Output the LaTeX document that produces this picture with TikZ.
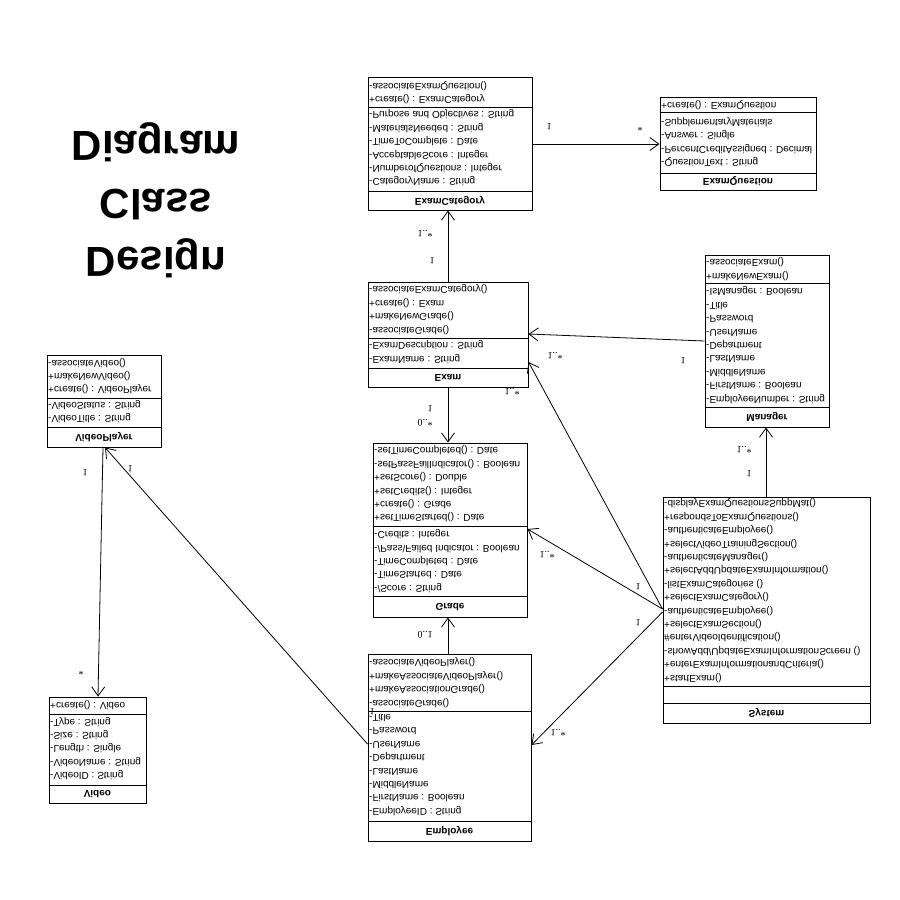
\documentclass[tikz,border=0pt]{standalone}
\usepackage{fontspec}
\setmainfont{Liberation Sans}
\newfontfamily\multfont{Liberation Serif}
\usetikzlibrary{arrows.meta}
\usetikzlibrary{fit}
\tikzset{
  Klasse/.style={draw, line width=1pt, inner sep=0pt, fit={#1}}, % Klassenrahmen
  Glieder/.style={anchor=west, yscale=-1, align=left, inner xsep=1.5pt, inner ysep=0pt,
    font=\fontsize{10}{13.4}\selectfont}, % Attribute und Methoden
  Klassenname/.style={yscale=-1, inner sep=0pt, font=\bfseries\fontsize{10}{12}\selectfont},
  Linie/.style={line width=0.9pt},
  Assoz/.style={line width=0.8pt, -{Straight Barb[length=9pt,width=13pt]}}, % Assoziationspfeile
  Mult/.style={yscale=-1, inner sep=0pt, font=\multfont\fontsize{10}{11}\selectfont},
  Titel/.style={yscale=-1, align=center, inner sep=0pt, font=\bfseries\fontsize{42}{58}\selectfont}
}
\begin{document}
\begin{tikzpicture}[x=1pt, y=-1pt]
\useasboundingbox (0,0) rectangle (900,900);

%Titel
\node[Titel] (Titel) at (156,200) {Design\\Class\\Diagram};

%Klassen
\node[Klasse={(368,77) (532,210)}] (ExamCategory) {};
\node[Klasse={(660,97) (816,190)}] (ExamQuestion) {};
\node[Klasse={(368,282) (528,387)}] (Exam) {};
\node[Klasse={(705,255) (829,427)}] (Manager) {};
\node[Klasse={(47,355) (161,447)}] (VideoPlayer) {};
\node[Klasse={(373,443) (527,617)}] (Grade) {};
\node[Klasse={(663,497) (870,723)}] (System) {};
\node[Klasse={(368,654) (531,841)}] (Employee) {};
\node[Klasse={(49,697) (146,803)}] (Video) {};

%Trennlinien
\foreach \k/\a/\b in {ExamCategory/107/191, ExamQuestion/112/173, Exam/338/368,
  Manager/283/407, VideoPlayer/398/427, Grade/526/596, System/686/703,
  Employee/711/821, Video/714/785}{
  \draw[Linie] (\k.west |- 0,\a) -- (\k.east |- 0,\a);
  \draw[Linie] (\k.west |- 0,\b) -- (\k.east |- 0,\b);
}

%Methoden und Attribute
\node[Glieder] (ExamCategory-m) at (ExamCategory.west |- 0,92.5)
  {+create() : ExamCategory\\-associateExamQuestion()};
\node[Glieder] (ExamCategory-a) at (ExamCategory.west |- 0,148)
  {-CategoryName : String\\-NumberofQuestions : Integer\\-AcceptableScore : Integer\\
   -TimeToComplete : Date\\-MaterialsNeeded : String\\-Purpose and Objectives : String};
\node[Glieder] (ExamQuestion-m) at (ExamQuestion.west |- 0,105)
  {+create() : ExamQuestion};
\node[Glieder] (ExamQuestion-a) at (ExamQuestion.west |- 0,142)
  {-QuestionText : String\\-PercentCreditAssigned : Decimal\\-Answer : Single\\-SupplementaryMaterials};
\node[Glieder] (Exam-m) at (Exam.west |- 0,309.5)
  {-associateGrade()\\+makeNewGrade()\\+create() : Exam\\-associateExamCategory()};
\node[Glieder] (Exam-a) at (Exam.west |- 0,352)
  {-ExamName : String\\-ExamDescription : String};
\node[Glieder] (Manager-m) at (Manager.west |- 0,269)
  {+makeNewExam()\\-associateExam()};
\node[Glieder] (Manager-a) at (Manager.west |- 0,345)
  {-EmployeeNumber : String\\-FirstName : Boolean\\-MiddleName\\-LastName\\-Department\\
   -UserName\\-Password\\-Title\\-IsManager : Boolean};
\node[Glieder] (VideoPlayer-m) at (VideoPlayer.west |- 0,376)
  {+create() : VideoPlayer\\+makeNewVideo()\\-associateVideo()};
\node[Glieder] (VideoPlayer-a) at (VideoPlayer.west |- 0,411.5)
  {-VideoTitle : String\\-VideoStatus : String};
\node[Glieder] (Grade-m) at (Grade.west |- 0,484)
  {+setTimeStarted() : Date\\+create() : Grade\\+setCredits() : Integer\\+setScore() : Double\\
   -setPassFailIndicator() : Boolean\\-setTimeCompleted() : Date};
\node[Glieder] (Grade-a) at (Grade.west |- 0,561)
  {-/Score : String\\-TimeStarted : Date\\-TimeCompleted : Date\\
   -/Pass\textbackslash Failed Indicator : Boolean\\-Credits : Integer};
\node[Glieder] (System-m) at (System.west |- 0,590.5)
  {+startExam()\\+enterExamInformationandCriteria()\\-showAdd/UpdateExamInformationScreen ()\\
   \#enterVideoIdentification()\\+selectExamSection()\\-authenticateEmployee()\\
   +selectExamCategory()\\-listExamCategories ()\\+selectAddUpdateExamInformation()\\
   -authenticateManager()\\+selectVideoTrainingSection()\\-authenticateEmployee()\\
   +respondsToExamQuestions()\\-displayExamQuestionsSuppMat()};
\node[Glieder] (Employee-m) at (Employee.west |- 0,682.5)
  {-associateGrade()\\+makeAssociationGrade()\\+makeAssociateVideoPlayer()\\-associateVideoPlayer()};
\node[Glieder] (Employee-a) at (Employee.west |- 0,765)
  {-EmployeeID : String\\-FirstName : Boolean\\-MiddleName\\-LastName\\-Department\\
   -UserName\\-Password\\-Title};
\node[Glieder] (Video-m) at (Video.west |- 0,705)
  {+create() : Video};
\node[Glieder] (Video-a) at (Video.west |- 0,748.5)
  {-VideoID : String\\-VideoName : String\\-Length : Single\\-Size : String\\-Type : String};

%Klassennamen
\foreach \k/\y in {ExamCategory/201, ExamQuestion/181, Exam/378, Manager/417,
  VideoPlayer/437, Grade/607, System/713, Employee/831, Video/794}
  \node[Klassenname] (\k-n) at (\k.center |- 0,\y) {\k};

%Assoziationen
\draw[Assoz] (ExamCategory.east |- 0,144) -- (ExamQuestion.west |- 0,144);
\draw[Assoz] (Exam.north -| 448,0) -- (ExamCategory.south -| 448,0);
\draw[Assoz] (Exam.south -| 448,0) -- (Grade.north -| 448,0);
\draw[Assoz] (Employee.north -| 448,0) -- (Grade.south -| 448,0);
\draw[Assoz] (Manager.west |- 0,341) -- (Exam.east |- 0,334);
\draw[Assoz] (System.north -| 766,0) -- (Manager.south -| 766,0);
\coordinate (SysL) at (System.west |- 0,609);
\draw[Assoz] (SysL) -- (Exam.east |- 0,362);
\draw[Assoz] (SysL) -- (Grade.east |- 0,529);
\draw[Assoz] (System.west |- 0,612) -- (Employee.east |- 0,745);
\draw[Assoz] (Employee.west |- 0,744) -- (VideoPlayer.south -| 105,0);
\draw[Assoz] (VideoPlayer.south -| 103,0) -- (Video.north -| 98,0);

%Multiplizitaeten
\foreach \x/\y/\t [count=\i] in {549/127/1, 640/128/*, 425/234/1..*, 432/261/1,
  430/409/1, 425/423/0..*, 425/635/0..1, 555/356/1..*, 683/361/1, 512/392/1..*,
  744/450/1..*, 749/474/1, 547/555/1..*, 638/587/1, 638/623/1, 558/733/1..*,
  130/469/1, 372/712/1, 85/473/1, 81/672/*}
  \node[Mult] (m\i) at (\x,\y) {\t};

\end{tikzpicture}
\end{document}
